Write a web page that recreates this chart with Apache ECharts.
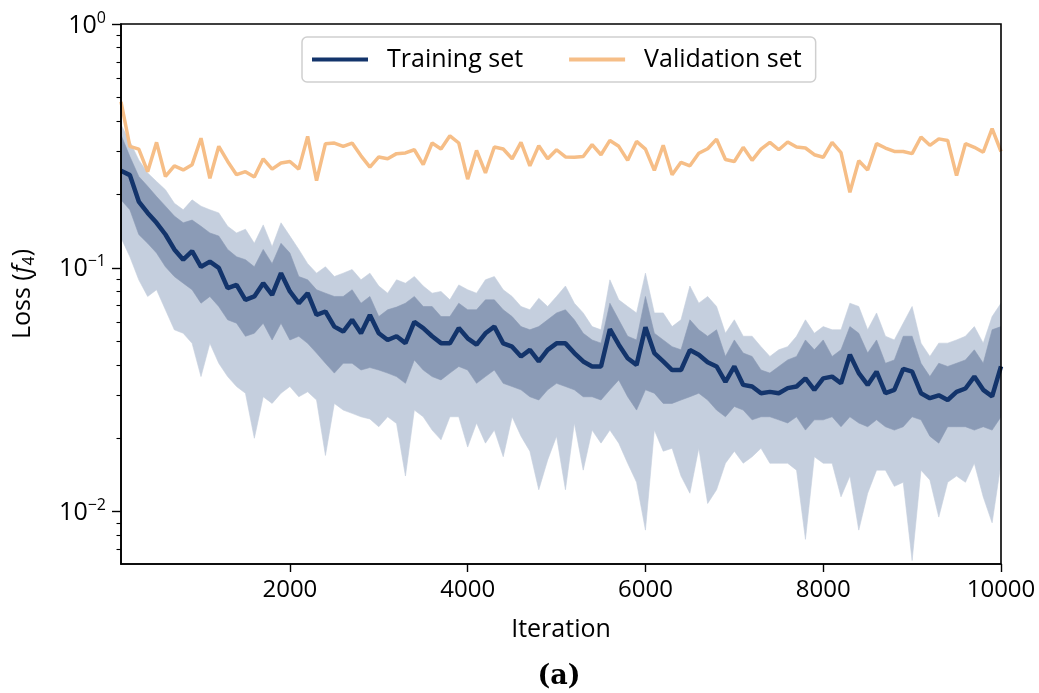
<!DOCTYPE html>
<html><head><meta charset="utf-8">
<script src="https://cdn.jsdelivr.net/npm/echarts@6/dist/echarts.min.js"></script>
<style>html,body{margin:0;padding:0;background:#fff}#c{width:1039px;height:693px}</style>
</head><body><div id="c"></div>
<script>
const iterations = [100,200,300,400,500,600,700,800,900,1000,1100,1200,1300,1400,1500,1600,1700,1800,1900,2000,
2100,2200,2300,2400,2500,2600,2700,2800,2900,3000,3100,3200,3300,3400,3500,3600,3700,3800,3900,4000,
4100,4200,4300,4400,4500,4600,4700,4800,4900,5000,5100,5200,5300,5400,5500,5600,5700,5800,5900,6000,
6100,6200,6300,6400,6500,6600,6700,6800,6900,7000,7100,7200,7300,7400,7500,7600,7700,7800,7900,8000,
8100,8200,8300,8400,8500,8600,8700,8800,8900,9000,9100,9200,9300,9400,9500,9600,9700,9800,9900,10000];

const trainMean = [0.250,0.240,0.187,0.168,0.153,0.137,0.119,0.108,0.117,0.101,0.106,0.100,0.0826,0.0851,0.0739,0.0763,0.0865,0.0775,0.0951,0.0800,
0.0716,0.0787,0.0641,0.0662,0.0574,0.0548,0.0612,0.0539,0.0641,0.0539,0.0506,0.0524,0.0491,0.0600,0.0566,0.0524,0.0491,0.0490,0.0566,0.0514,
0.0484,0.0539,0.0574,0.0490,0.0475,0.0433,0.0461,0.0413,0.0461,0.0490,0.0490,0.0447,0.0413,0.0394,0.0394,0.0560,0.0484,0.0426,0.0400,0.0570,
0.0447,0.0413,0.0381,0.0381,0.0460,0.0440,0.0410,0.0394,0.0341,0.0394,0.0331,0.0326,0.0306,0.0310,0.0306,0.0321,0.0326,0.0352,0.0316,0.0352,
0.0358,0.0336,0.0440,0.0370,0.0331,0.0375,0.0306,0.0316,0.0385,0.0375,0.0306,0.0292,0.0300,0.0287,0.0310,0.0320,0.0358,0.0316,0.0297,0.0394];

const trainOuterHigh = [0.386,0.330,0.277,0.245,0.226,0.209,0.184,0.173,0.190,0.179,0.173,0.168,0.148,0.139,0.144,0.126,0.150,0.122,0.153,0.135,
0.119,0.104,0.0951,0.101,0.0921,0.0951,0.0984,0.0893,0.0951,0.0842,0.0787,0.0893,0.0865,0.0921,0.0842,0.0787,0.0800,0.0739,0.0851,0.0813,
0.0787,0.0893,0.0921,0.0813,0.0763,0.0694,0.0673,0.0750,0.0694,0.0763,0.0842,0.0716,0.0653,0.0574,0.0557,0.0893,0.0739,0.0694,0.0653,0.0951,
0.0653,0.0653,0.0574,0.0612,0.0842,0.0716,0.0763,0.0694,0.0539,0.0612,0.0524,0.0524,0.0475,0.0433,0.0461,0.0475,0.0524,0.0612,0.0539,0.0574,
0.0557,0.0557,0.0716,0.0694,0.0557,0.0653,0.0524,0.0506,0.0593,0.0694,0.0491,0.0433,0.0491,0.0491,0.0506,0.0524,0.0574,0.0491,0.0631,0.0716];

const trainInnerHigh = [0.351,0.286,0.237,0.216,0.196,0.179,0.163,0.153,0.157,0.148,0.139,0.135,0.119,0.111,0.108,0.101,0.119,0.104,0.126,0.115,
0.0921,0.0893,0.0813,0.0787,0.0763,0.0763,0.0813,0.0716,0.0763,0.0631,0.0673,0.0690,0.0716,0.0763,0.0694,0.0694,0.0631,0.0631,0.0716,0.0673,
0.0673,0.0739,0.0739,0.0673,0.0631,0.0574,0.0557,0.0574,0.0612,0.0653,0.0673,0.0612,0.0539,0.0506,0.0491,0.0716,0.0612,0.0524,0.0506,0.0763,
0.0539,0.0506,0.0475,0.0461,0.0612,0.0557,0.0524,0.0557,0.0433,0.0506,0.0447,0.0433,0.0381,0.0370,0.0394,0.0419,0.0433,0.0506,0.0461,0.0506,
0.0433,0.0461,0.0574,0.0539,0.0447,0.0506,0.0406,0.0419,0.0524,0.0524,0.0406,0.0358,0.0406,0.0394,0.0406,0.0419,0.0461,0.0406,0.0557,0.0574];

const trainInnerLow = [0.190,0.173,0.137,0.126,0.115,0.101,0.0921,0.0865,0.0813,0.0716,0.0763,0.0694,0.0612,0.0593,0.0524,0.0539,0.0593,0.0506,0.0593,0.0506,
0.0524,0.0490,0.0447,0.0406,0.0370,0.0406,0.0406,0.0381,0.0390,0.0381,0.0370,0.0358,0.0336,0.0419,0.0381,0.0358,0.0347,0.0370,0.0394,0.0381,
0.0336,0.0358,0.0381,0.0336,0.0326,0.0316,0.0296,0.0287,0.0316,0.0336,0.0326,0.0316,0.0296,0.0296,0.0287,0.0316,0.0347,0.0296,0.0261,0.0316,
0.0306,0.0278,0.0278,0.0287,0.0296,0.0306,0.0287,0.0261,0.0245,0.0270,0.0261,0.0238,0.0245,0.0245,0.0238,0.0231,0.0245,0.0216,0.0238,0.0238,
0.0245,0.0223,0.0245,0.0231,0.0223,0.0238,0.0223,0.0216,0.0223,0.0245,0.0238,0.0204,0.0191,0.0223,0.0223,0.0223,0.0216,0.0223,0.0216,0.0245];

const trainOuterLow = [0.133,0.111,0.0893,0.0763,0.0813,0.0673,0.0557,0.0539,0.0490,0.0358,0.0490,0.0406,0.0358,0.0326,0.0306,0.0200,0.0296,0.0278,0.0306,0.0326,
0.0296,0.0310,0.0287,0.0170,0.0278,0.0261,0.0253,0.0245,0.0240,0.0223,0.0245,0.0230,0.0140,0.0261,0.0245,0.0216,0.0197,0.0245,0.0245,0.0184,
0.0231,0.0191,0.0216,0.0168,0.0245,0.0204,0.0177,0.0123,0.0163,0.0204,0.0123,0.0231,0.0148,0.0216,0.0191,0.0216,0.0191,0.0158,0.0132,0.0084,
0.0216,0.0177,0.0182,0.0140,0.0119,0.0182,0.0108,0.0123,0.0158,0.0177,0.0158,0.0168,0.0182,0.0158,0.0158,0.0158,0.0148,0.0077,0.0168,0.0158,
0.0158,0.0115,0.0140,0.0084,0.0119,0.0148,0.0148,0.0127,0.0132,0.0063,0.0148,0.0135,0.0095,0.0132,0.0140,0.0132,0.0158,0.0115,0.0090,0.0158];

const validation = [0.480,0.315,0.307,0.248,0.327,0.237,0.262,0.252,0.265,0.340,0.233,0.315,0.273,0.241,0.248,0.236,0.280,0.254,0.269,0.273,
0.254,0.346,0.228,0.323,0.325,0.315,0.325,0.288,0.259,0.285,0.280,0.294,0.296,0.305,0.265,0.325,0.307,0.348,0.325,0.231,
0.303,0.245,0.313,0.307,0.280,0.327,0.262,0.317,0.280,0.305,0.285,0.284,0.286,0.320,0.291,0.333,0.315,0.276,0.330,0.307,
0.251,0.318,0.241,0.271,0.262,0.295,0.308,0.337,0.278,0.273,0.312,0.276,0.307,0.327,0.305,0.328,0.313,0.310,0.291,0.284,
0.327,0.297,0.204,0.275,0.252,0.323,0.310,0.300,0.300,0.294,0.344,0.318,0.338,0.333,0.239,0.323,0.312,0.298,0.372,0.300];

const xTicks = [2000,4000,6000,8000,10000];
const yTicks = [0.01,0.1,1];
const yMinorTicks = [0.007,0.008,0.009,0.02,0.03,0.04,0.05,0.06,0.07,0.08,0.09,0.2,0.3,0.4,0.5,0.6,0.7,0.8,0.9];

const FONT = '"Open Sans", "Noto Sans", sans-serif';
const C_TRAIN = '#13346b', C_MID = '#8b9bb6', C_LIGHT = '#c5cfde', C_VAL = '#f6be87';

function band(lo, hi, color, z) {
  return {
    type: 'custom', coordinateSystem: 'cartesian2d', silent: true, z: z, clip: true,
    data: iterations.map((x, i) => [x, lo[i], hi[i]]),
    encode: { x: 0, y: [1, 2] },
    renderItem: function (params, api) {
      if (params.dataIndex !== 0) return null;
      const pts = [];
      for (let i = 0; i < iterations.length; i++) pts.push(api.coord([iterations[i], hi[i]]));
      for (let i = iterations.length - 1; i >= 0; i--) pts.push(api.coord([iterations[i], lo[i]]));
      return { type: 'polygon', shape: { points: pts }, style: { fill: color, stroke: color, lineWidth: 0.6 } };
    }
  };
}

function expLabel(v) {
  const e = Math.round(Math.log10(v));
  return '{b|10}{s|' + (e < 0 ? '\u2212' + (-e) : String(e)) + '}';
}

const chart = echarts.init(document.getElementById('c'), null, { renderer: 'canvas' });
chart.setOption({
  animation: false,
  backgroundColor: '#fff',
  textStyle: { fontFamily: FONT },
  grid: { left: 121, right: 38, top: 24, bottom: 129, containLabel: false, outerBoundsMode: 'none',
          show: true, borderColor: '#000', borderWidth: 1.6, z: 10, backgroundColor: 'transparent' },
  legend: {
    data: ['Training set', 'Validation set'],
    left: 302, top: 37,
    icon: 'rect', itemWidth: 56, itemHeight: 4, itemGap: 46,
    padding: [10, 14, 10, 10],
    borderColor: '#cfcfcf', borderWidth: 1.5, borderRadius: 5, backgroundColor: '#fff',
    textStyle: { fontSize: 25, color: '#000', fontFamily: FONT, padding: [0, 0, 0, 14] }
  },
  xAxis: {
    type: 'value', min: 100, max: 10000, z: 10,
    axisLine: { show: true, lineStyle: { color: '#000', width: 1.6 } },
    axisTick: { show: true, length: 8, customValues: xTicks, lineStyle: { color: '#000', width: 1.4 } },
    axisLabel: { customValues: xTicks, fontSize: 24, color: '#000', fontFamily: FONT, margin: 14, formatter: v => String(v) },
    splitLine: { show: false },
    name: 'Iteration', nameLocation: 'middle', nameGap: 53,
    nameTextStyle: { fontSize: 25, color: '#000', fontFamily: FONT }
  },
  yAxis: [{
    type: 'log', logBase: 10, min: 0.0061, max: 1, z: 10,
    axisLine: { show: true, lineStyle: { color: '#000', width: 1.6 } },
    axisTick: { show: true, length: 9, customValues: yTicks, lineStyle: { color: '#000', width: 1.4 } },
    axisLabel: {
      customValues: yTicks, margin: 15, formatter: expLabel,
      rich: {
        b: { fontSize: 25, color: '#000', fontFamily: FONT, lineHeight: 28, verticalAlign: 'bottom' },
        s: { fontSize: 16, color: '#000', fontFamily: FONT, lineHeight: 15, verticalAlign: 'top' }
      }
    },
    splitLine: { show: false },
    name: 'Loss ({i|f}{sub|4})', nameLocation: 'middle', nameGap: 84,
    nameTextStyle: {
      fontSize: 25, color: '#000', fontFamily: FONT, lineHeight: 28,
      rich: {
        i: { fontSize: 25, fontStyle: 'italic', color: '#000', fontFamily: FONT, lineHeight: 28 },
        sub: { fontSize: 16, color: '#000', fontFamily: FONT, lineHeight: 15, verticalAlign: 'bottom' }
      }
    }
  }, {
    type: 'log', logBase: 10, min: 0.0061, max: 1, position: 'left', z: 10,
    axisLine: { show: false },
    axisTick: { show: true, length: 4.5, customValues: yMinorTicks, lineStyle: { color: '#000', width: 1.1 } },
    axisLabel: { show: false },
    splitLine: { show: false }
  }],
  series: [
    band(trainOuterLow, trainOuterHigh, C_LIGHT, 1),
    band(trainInnerLow, trainInnerHigh, C_MID, 2),
    {
      name: 'Training set', type: 'line', z: 4, showSymbol: false, symbol: 'none',
      data: iterations.map((x, i) => [x, trainMean[i]]),
      lineStyle: { color: C_TRAIN, width: 4.5 }, itemStyle: { color: C_TRAIN }
    },
    {
      name: 'Validation set', type: 'line', z: 5, showSymbol: false, symbol: 'none',
      data: iterations.map((x, i) => [x, validation[i]]),
      lineStyle: { color: C_VAL, width: 3.5 }, itemStyle: { color: C_VAL }
    }
  ],
  graphic: [{
    type: 'text', x: 559, y: 677,
    style: { text: '(a)', textAlign: 'center', textVerticalAlign: 'middle', font: 'bold 27px "DejaVu Serif", serif', fill: '#000' }
  }]
});
</script>
</body></html>
